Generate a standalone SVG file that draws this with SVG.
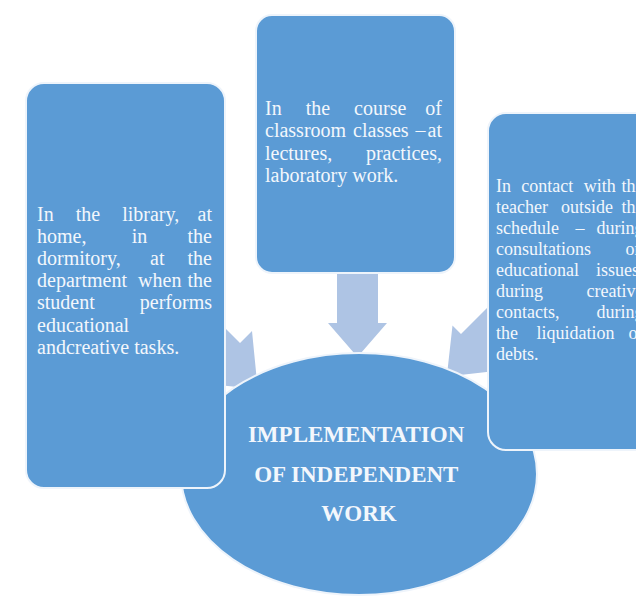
<svg xmlns="http://www.w3.org/2000/svg" width="636" height="599" viewBox="0 0 636 599">
  <style>
    .box { fill: #5b9bd5; stroke: #eef4fb; stroke-width: 2; }
    .arrow { fill: #aec4e4; stroke: none; }
    .t { font-family: "Liberation Serif", "Times New Roman", serif; fill: #f3f7fc; }
    .t20 { font-size: 20px; }
    .t18 { font-size: 18px; }
    .title { font-family: "Liberation Serif", "Times New Roman", serif; font-size: 23px; font-weight: bold; fill: #f3f7fc; text-anchor: middle; }
  </style>
  <rect width="636" height="599" fill="#ffffff"/>

  <g id="connectors">
    <polygon class="arrow" points="337,270 378,270 378,323 387,323 357.5,357 328,323 337,323"/>
    <polygon class="arrow" points="190.5,293.5 240,343 252,331 257.7,388.9 199.7,383.3 211.8,371.2 162.3,321.7"/>
    <polygon class="arrow" points="510.5,284.5 461,334 452.5,325.5 446.8,376.4 497.7,370.7 489.2,362.2 538.7,312.7"/>
  </g>

  <g id="center">
    <ellipse class="box" cx="359" cy="474" rx="178" ry="121"/>
    <text class="title">
      <tspan x="359" y="442">IMPLEMENTATION</tspan>
      <tspan x="359" y="482">OF INDEPENDENT</tspan>
      <tspan x="359" y="521">WORK</tspan>
    </text>
  </g>

  <g id="left">
    <rect class="box" x="26" y="83" width="199" height="405" rx="18" ry="18"/>
    <text class="t t20">
      <tspan x="37" y="220.5">In</tspan> <tspan x="75.7" y="220.5">the</tspan> <tspan x="122.2" y="220.5">library,</tspan> <tspan x="217" y="220.5" text-anchor="end">at</tspan>
      <tspan x="37" y="242.7">home,</tspan> <tspan x="131.7" y="242.7">in</tspan> <tspan x="217" y="242.7" text-anchor="end">the</tspan>
      <tspan x="37" y="264.9">dormitory,</tspan> <tspan x="150.1" y="264.9">at</tspan> <tspan x="217" y="264.9" text-anchor="end">the</tspan>
      <tspan x="37" y="287.1">department</tspan> <tspan x="138.1" y="287.1">when</tspan> <tspan x="217" y="287.1" text-anchor="end">the</tspan>
      <tspan x="37" y="309.3">student</tspan> <tspan x="217" y="309.3" text-anchor="end">performs</tspan>
      <tspan x="37" y="331.5">educational</tspan>
      <tspan x="37" y="353.7">andcreative tasks.</tspan>
    </text>
  </g>

  <g id="top">
    <rect class="box" x="256" y="15" width="199" height="258" rx="16" ry="16"/>
    <text class="t t20">
      <tspan x="265" y="114.5">In</tspan> <tspan x="305.7" y="114.5">the</tspan> <tspan x="354.1" y="114.5">course</tspan> <tspan x="447" y="114.5" text-anchor="end">of</tspan>
      <tspan x="265" y="137">classroom</tspan> <tspan x="353.1" y="137">classes</tspan> <tspan x="415.6" y="137">–</tspan> <tspan x="447" y="137" text-anchor="end">at</tspan>
      <tspan x="265" y="159.5">lectures,</tspan> <tspan x="447" y="159.5" text-anchor="end">practices,</tspan>
      <tspan x="265" y="182">laboratory work.</tspan>
    </text>
  </g>

  <g id="right">
    <rect class="box" x="488" y="113" width="190" height="337" rx="18" ry="18"/>
    <text class="t t18">
      <tspan x="496" y="192">In</tspan> <tspan x="521.3" y="192">contact</tspan> <tspan x="583.7" y="192">with</tspan> <tspan x="648" y="192" text-anchor="end">the</tspan>
      <tspan x="496" y="213">teacher</tspan> <tspan x="561" y="213">outside</tspan> <tspan x="648" y="213" text-anchor="end">the</tspan>
      <tspan x="496" y="234">schedule</tspan> <tspan x="575.5" y="234">–</tspan> <tspan x="648" y="234" text-anchor="end">during</tspan>
      <tspan x="496" y="255">consultations</tspan> <tspan x="648" y="255" text-anchor="end">on</tspan>
      <tspan x="496" y="276">educational</tspan> <tspan x="648" y="276" text-anchor="end">issues,</tspan>
      <tspan x="496" y="297">during</tspan> <tspan x="648" y="297" text-anchor="end">creative</tspan>
      <tspan x="496" y="318">contacts,</tspan> <tspan x="648" y="318" text-anchor="end">during</tspan>
      <tspan x="496" y="339">the</tspan> <tspan x="536.5" y="339">liquidation</tspan> <tspan x="648" y="339" text-anchor="end">of</tspan>
      <tspan x="496" y="360">debts.</tspan>
    </text>
  </g>
</svg>
